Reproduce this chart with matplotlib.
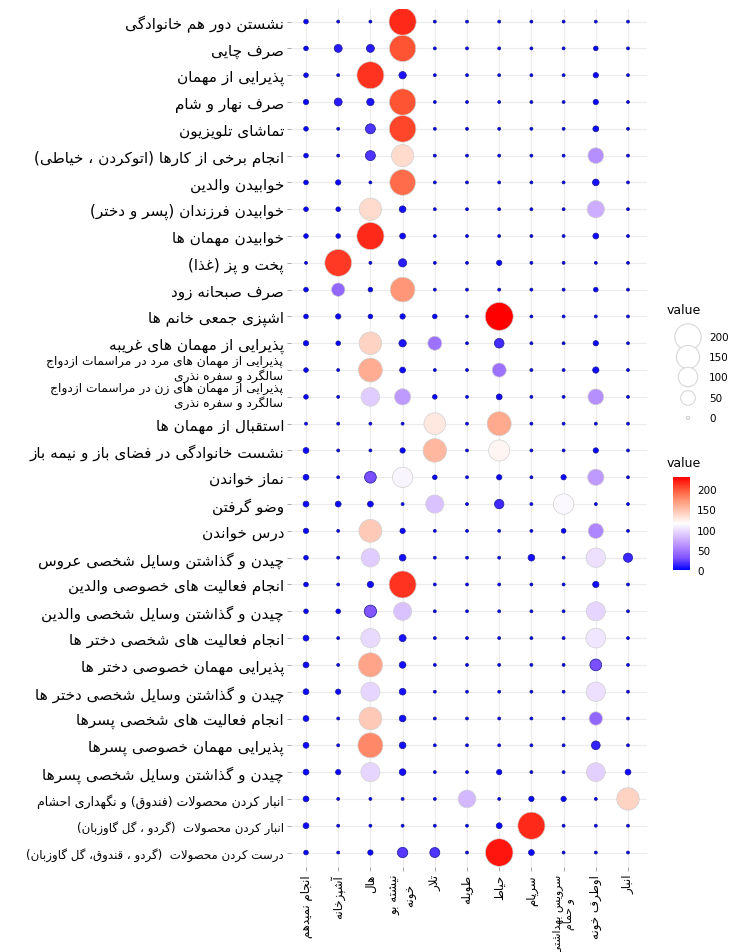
import matplotlib
matplotlib.use("Agg")
import matplotlib.pyplot as plt
import numpy as np
from matplotlib.colors import LinearSegmentedColormap, Normalize
from matplotlib.cm import ScalarMappable

# --- minimal Persian shaping (no arabic_reshaper available) ---
_D = {'ب': 0xFE8F, 'ت': 0xFE95, 'ث': 0xFE99, 'ج': 0xFE9D, 'ح': 0xFEA1, 'خ': 0xFEA5,
      'س': 0xFEB1, 'ش': 0xFEB5, 'ص': 0xFEB9, 'ض': 0xFEBD, 'ط': 0xFEC1, 'ظ': 0xFEC5,
      'ع': 0xFEC9, 'غ': 0xFECD, 'ف': 0xFED1, 'ق': 0xFED5, 'ك': 0xFED9, 'ل': 0xFEDD,
      'م': 0xFEE1, 'ن': 0xFEE5, 'ه': 0xFEE9, 'ي': 0xFEF1, 'پ': 0xFB56, 'چ': 0xFB7A,
      'ک': 0xFB8E, 'گ': 0xFB92, 'ی': 0xFBFC}
_R = {'ا': 0xFE8D, 'آ': 0xFE81, 'أ': 0xFE83, 'د': 0xFEA9, 'ذ': 0xFEAB, 'ر': 0xFEAD,
      'ز': 0xFEAF, 'ژ': 0xFB8A, 'و': 0xFEED, 'ة': 0xFE93}
_MIRROR = {'(': ')', ')': '('}


def _shape_line(s):
    out = []
    i = 0
    while i < len(s):
        c = s[i]
        prev = s[i - 1] if i > 0 else ''
        nxt = s[i + 1] if i + 1 < len(s) else ''
        p = prev in _D
        if c == 'ل' and nxt in ('ا', 'آ'):
            base = 0xFEFB if nxt == 'ا' else 0xFEF5
            out.append(chr(base + (1 if p else 0)))
            i += 2
            continue
        if c in _D:
            n = nxt in _D or nxt in _R
            k = 3 if (p and n) else 1 if p else 2 if n else 0
            out.append(chr(_D[c] + k))
        elif c in _R:
            out.append(chr(_R[c] + (1 if p else 0)))
        else:
            out.append(_MIRROR.get(c, c))
        i += 1
    return ''.join(reversed(out))


def fa(text):
    return '\n'.join(_shape_line(l) for l in text.split('\n'))


# --- data ---
activities = [
    'نشستن دور هم خانوادگی',
    'صرف چایی',
    'پذیرایی از مهمان',
    'صرف نهار و شام',
    'تماشای تلویزیون',
    'انجام برخی از کارها (اتوکردن ، خیاطی)',
    'خوابیدن والدین',
    'خوابیدن فرزندان (پسر و دختر)',
    'خوابیدن مهمان ها',
    'پخت و پز (غذا)',
    'صرف صبحانه زود',
    'اشپزی جمعی خانم ها',
    'پذیرایی از مهمان های غریبه',
    'پذیرایی از مهمان های مرد در مراسمات ازدواج\nسالگرد و سفره نذری',
    'پذیرایی از مهمان های زن در مراسمات ازدواج\nسالگرد و سفره نذری',
    'استقبال از مهمان ها',
    'نشست خانوادگی در فضای باز و نیمه باز',
    'نماز خواندن',
    'وضو گرفتن',
    'درس خواندن',
    'چیدن و گذاشتن وسایل شخصی عروس',
    'انجام فعالیت های خصوصی والدین',
    'چیدن و گذاشتن وسایل شخصی والدین',
    'انجام فعالیت های شخصی دختر ها',
    'پذیرایی مهمان خصوصی دختر ها',
    'چیدن و گذاشتن وسایل شخصی دختر ها',
    'انجام فعالیت های شخصی پسرها',
    'پذیرایی مهمان خصوصی پسرها',
    'چیدن و گذاشتن وسایل شخصی پسرها',
    'انبار کردن محصولات (فندوق) و نگهداری احشام',
    'انبار کردن محصولات  (گردو ، گل گاوزبان)',
    'درست کردن محصولات  (گردو ، قندوق، گل گاوزبان)',
]

spaces = ['انجام نمیدهم', 'آشپزخانه', 'هال', 'نیشته بو\nخونه', 'تلار', 'طویله',
          'حیاط', 'سرپام', 'سرویس بهداشتی\nو حمام', 'اوطرف خونه', 'انبار']

v_none    = [1, 1, 1, 2, 1, 1, 1, 1, 1, 0, 1, 1, 2, 1, 1, 0, 3, 3, 3, 2, 1, 1, 1, 3, 3, 3, 3, 3, 3, 3, 3, 1]
v_kitchen = [0, 9, 0, 9, 0, 0, 2, 1, 1, 210, 40, 2, 1, 0, 0, 0, 0, 0, 3, 0, 0, 0, 1, 0, 0, 2, 0, 0, 2, 0, 0, 0]
v_hall    = [0, 9, 212, 7, 18, 18, 0, 135, 215, 0, 1, 1, 140, 160, 90, 0, 0, 28, 3, 145, 90, 4, 32, 97, 165, 95, 145, 178, 95, 0, 0, 2]
v_sitting = [215, 200, 7, 200, 205, 135, 190, 5, 3, 10, 172, 2, 7, 3, 65, 0, 2, 110, 0, 2, 5, 212, 85, 6, 5, 5, 5, 5, 5, 0, 0, 20]
v_talar   = [0, 0, 0, 0, 0, 0, 0, 0, 0, 0, 0, 1, 45, 0, 1, 128, 155, 1, 85, 0, 0, 0, 0, 0, 0, 0, 0, 0, 0, 0, 0, 18]
v_stable  = [0, 0, 0, 0, 0, 0, 0, 0, 0, 0, 0, 0, 0, 0, 0, 0, 0, 0, 0, 0, 0, 0, 0, 0, 0, 0, 0, 0, 0, 80, 0, 0]
v_yard    = [0, 0, 0, 0, 0, 0, 0, 0, 0, 2, 0, 230, 16, 45, 3, 162, 120, 2, 15, 0, 0, 0, 0, 0, 0, 0, 0, 0, 2, 0, 3, 222]
v_sarpam  = [0, 0, 0, 0, 0, 0, 0, 0, 0, 0, 0, 0, 0, 0, 0, 0, 0, 0, 0, 0, 5, 0, 0, 0, 0, 0, 0, 0, 0, 2, 215, 3]
v_bath    = [0, 0, 0, 0, 0, 0, 0, 0, 0, 0, 0, 0, 0, 0, 0, 0, 0, 2, 112, 1, 0, 0, 0, 0, 0, 0, 0, 0, 0, 2, 0, 0]
v_otaraf  = [0, 1, 2, 2, 3, 60, 5, 75, 3, 0, 1, 0, 2, 4, 60, 0, 2, 65, 0, 55, 100, 4, 95, 103, 28, 100, 40, 12, 92, 0, 0, 0]
v_store   = [0, 0, 0, 0, 0, 0, 0, 0, 0, 0, 0, 0, 0, 0, 0, 0, 0, 0, 0, 0, 14, 0, 0, 0, 0, 0, 0, 0, 3, 140, 0, 0]

columns = [v_none, v_kitchen, v_hall, v_sitting, v_talar, v_stable, v_yard,
           v_sarpam, v_bath, v_otaraf, v_store]
legend_values = [200, 150, 100, 50, 0]
cbar_ticks = [0, 50, 100, 150, 200]

vals = np.array(columns, dtype=float).T  # rows x cols
vmax = vals.max()

cmap = LinearSegmentedColormap.from_list('gg2', [
    (0.0, '#0000FF'), (0.125, '#7E51FF'), (0.25, '#B38BFF'), (0.375, '#DCC4FF'),
    (0.5, '#FFFFFF'), (0.625, '#FFCCBA'), (0.75, '#FF9676'), (0.875, '#FF5232'),
    (1.0, '#FF0000')])
norm = Normalize(0, vmax)


def marker_area(v):
    d_px = 3 + 25 * np.sqrt(np.asarray(v, dtype=float) / vmax)
    return (d_px * 0.72) ** 2


W, H = 730, 953
fig = plt.figure(figsize=(W / 100, H / 100), dpi=100)
plt.rcParams['font.family'] = ['DejaVu Sans']

# panel in pixel terms
left, right, top, bottom = 291, 647, 10, 868
ax = fig.add_axes([left / W, 1 - bottom / H, (right - left) / W, (bottom - top) / H])

nrow, ncol = vals.shape
yy, xx = np.meshgrid(np.arange(nrow), np.arange(ncol), indexing='ij')
flat = vals.ravel()
edges = ['#d0d0d0' if v >= 40 else '#1a1a90' for v in flat]
ax.scatter(xx.ravel(), yy.ravel(), s=marker_area(flat), c=flat, cmap=cmap, norm=norm,
           edgecolors=edges, linewidths=0.5, zorder=3)

ax.set_xlim(-0.466, 10.59)
ax.set_ylim(31.54, -0.47)
ax.set_xticks(np.arange(ncol))
ax.set_yticks(np.arange(nrow))
ax.set_xticklabels([fa(s) for s in spaces], rotation=90, fontsize=8.5)
for lab in ax.get_xticklabels():
    lab.set_multialignment('center')
ax.get_xticklabels()[8].set_fontsize(7.8)

# two-line labels are drawn line by line so each line is right-aligned
ylabels = []
for i, s in enumerate(activities):
    if '\n' in s:
        ylabels.append('')
        for k, line in enumerate(s.split('\n')):
            ax.text(-0.0225, i + (-0.36 if k == 0 else 0.2), fa(line), fontsize=8.8,
                    ha='right', va='center', transform=ax.get_yaxis_transform())
    else:
        ylabels.append(fa(s))
ax.set_yticklabels(ylabels, fontsize=11)
for i, lab in enumerate(ax.get_yticklabels()):
    if i == 29:
        lab.set_fontsize(9)
    elif i >= 30:
        lab.set_fontsize(8.5)
ax.grid(True, color='#EBEBEB', linewidth=0.8)
ax.set_axisbelow(True)
for sp in ax.spines.values():
    sp.set_visible(False)
ax.tick_params(length=3, width=0.6, color='#999999', pad=2, labelcolor='black')

# size legend
lax = fig.add_axes([655 / W, 1 - 430 / H, 75 / W, 130 / H])
lax.set_xlim(655, 730)
lax.set_ylim(430, 300)
lax.axis('off')
lax.text(667, 311, 'value', fontsize=9, va='center', ha='left')
leg_y = [338, 358, 378, 399, 419]
lax.scatter([688] * len(legend_values), leg_y, s=marker_area(legend_values),
            facecolors='white', edgecolors=['#d8d8d8'] * 4 + ['#cccccc'], linewidths=0.8)
for v, y in zip(legend_values, leg_y):
    lax.text(709, y, str(v), fontsize=7.5, va='center', ha='left')

# colour bar
fig.text(667 / W, 1 - 464 / H, 'value', fontsize=9, va='center', ha='left')
cax = fig.add_axes([673 / W, 1 - 571 / H, 17 / W, 93 / H])
cb = fig.colorbar(ScalarMappable(norm=norm, cmap=cmap), cax=cax, ticks=cbar_ticks)
cb.outline.set_visible(False)
cb.ax.tick_params(length=0, labelsize=7.5, pad=5)

fig.savefig('out.png', dpi=100)
